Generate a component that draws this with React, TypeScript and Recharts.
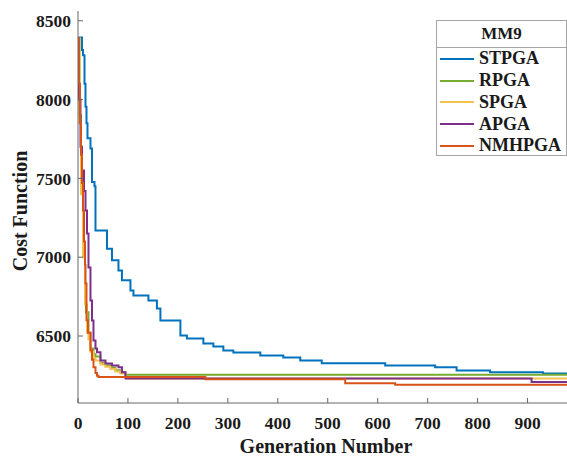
import { LineChart, Line, XAxis, YAxis, Legend, Label } from 'recharts'

// ─── Data ───────────────────────────────────────────────────────
const X_TICKS = [0, 100, 200, 300, 400, 500, 600, 700, 800, 900]
const Y_TICKS = [6500, 7000, 7500, 8000, 8500]

const STPGA_GEN = [0, 8, 10, 13, 15, 17, 19, 25, 28, 33, 35, 58, 68, 81, 88, 105, 111, 141, 158, 165, 205, 218, 251, 271, 291, 311, 365, 411, 445, 488, 615, 715, 758, 825, 931, 979]
const STPGA_COST = [8394, 8314, 8282, 8100, 7954, 7850, 7755, 7690, 7477, 7450, 7170, 7054, 6980, 6916, 6853, 6789, 6757, 6725, 6675, 6599, 6503, 6484, 6452, 6433, 6408, 6395, 6376, 6363, 6344, 6327, 6313, 6302, 6281, 6270, 6262, 6262]

const RPGA_GEN = [0, 3, 6, 10, 14, 16, 21, 25, 31, 35, 45, 55, 65, 75, 85, 95, 979]
const RPGA_COST = [8390, 7900, 7450, 7050, 6800, 6650, 6520, 6420, 6385, 6370, 6330, 6315, 6300, 6282, 6268, 6255, 6255]

const SPGA_GEN = [0, 3, 6, 10, 14, 18, 21, 25, 31, 35, 45, 55, 65, 75, 85, 95, 100, 979]
const SPGA_COST = [8390, 7850, 7400, 7000, 6700, 6520, 6480, 6400, 6360, 6345, 6320, 6305, 6290, 6275, 6262, 6240, 6231, 6231]

const APGA_GEN = [0, 2, 5, 8, 12, 15, 18, 21, 25, 28, 31, 35, 38, 45, 55, 68, 81, 88, 95, 908, 979]
const APGA_COST = [8390, 8000, 7700, 7550, 7420, 7297, 7150, 6935, 6725, 6598, 6472, 6420, 6397, 6344, 6325, 6313, 6302, 6270, 6231, 6208, 6208]

const NMHPGA_GEN = [0, 2, 4, 6, 8, 10, 12, 14, 15, 17, 20, 25, 28, 31, 35, 38, 41, 255, 535, 635, 979]
const NMHPGA_COST = [8390, 8100, 7850, 7650, 7470, 7297, 7100, 6950, 6833, 6600, 6520, 6410, 6350, 6302, 6265, 6248, 6240, 6226, 6200, 6190, 6190]

const toPoints = (gens: number[], costs: number[]) => gens.map((gen, i) => ({ gen, cost: costs[i] }))

const SERIES = [
  { name: 'STPGA', color: '#0072BD', data: toPoints(STPGA_GEN, STPGA_COST) },
  { name: 'RPGA', color: '#77AC30', data: toPoints(RPGA_GEN, RPGA_COST) },
  { name: 'SPGA', color: '#F2C14E', data: toPoints(SPGA_GEN, SPGA_COST) },
  { name: 'APGA', color: '#7E2F8E', data: toPoints(APGA_GEN, APGA_COST) },
  { name: 'NMHPGA', color: '#D95319', data: toPoints(NMHPGA_GEN, NMHPGA_COST) },
]

const FONT = '"Liberation Serif", "Times New Roman", serif'
const INK = '#1a1a1a'
const tickStyle = { fontSize: 17.5, fontWeight: 700, fill: INK, fontFamily: FONT }

// ─── Legend box ──────────────────────────────────────────────────
function LegendBox() {
  return (
    <div
      style={{
        position: 'absolute', left: 436, top: 20, width: 131, height: 136,
        background: '#fff', border: '1px solid #a6a6a6', fontFamily: FONT,
        fontWeight: 700, color: INK, boxSizing: 'border-box',
      }}
    >
      <div style={{ height: 26, lineHeight: '26px', textAlign: 'center', fontSize: 17, borderBottom: '1px solid #a6a6a6' }}>
        MM9
      </div>
      {SERIES.map((s) => (
        <div key={s.name} style={{ height: 21.75, display: 'flex', alignItems: 'center', fontSize: 18 }}>
          <div style={{ width: 34, height: 2, background: s.color, marginLeft: 3, marginRight: 5 }} />
          <span>{s.name}</span>
        </div>
      ))}
    </div>
  )
}

export default function App() {
  return (
    <div style={{ position: 'absolute', left: 0, top: 0, width: 567, height: 458, overflow: 'hidden', background: '#fff' }}>
      <LineChart width={567} height={458} margin={{ top: 11, right: 0, left: 0, bottom: 0 }}>
        <XAxis
          xAxisId="top" orientation="top" type="number" dataKey="gen" domain={[0, 979]} ticks={X_TICKS}
          height={0} tick={false} tickSize={-5} stroke="#666" allowDataOverflow
        />
        <XAxis
          type="number" dataKey="gen" domain={[0, 979]} ticks={X_TICKS} height={55}
          tick={tickStyle} tickSize={-5} tickMargin={19} stroke="#666" allowDataOverflow
        >
          <Label
            content={() => (
              <text x={326} y={453} textAnchor="middle" fontSize={20} fontWeight={700} fill={INK} fontFamily={FONT}>
                Generation Number
              </text>
            )}
          />
        </XAxis>
        <YAxis
          type="number" domain={[6075, 8562]} ticks={Y_TICKS} width={78}
          tick={tickStyle} tickSize={-5} tickMargin={12} stroke="#666" allowDataOverflow
        >
          <Label
            content={() => (
              <text x={27} y={211} transform="rotate(-90 27 211)" textAnchor="middle" fontSize={20} fontWeight={700} fill={INK} fontFamily={FONT}>
                Cost Function
              </text>
            )}
          />
        </YAxis>
        {SERIES.map((s) => (
          <Line
            key={s.name} data={s.data} dataKey="cost" name={s.name} type="stepAfter"
            stroke={s.color} strokeWidth={2} dot={false} activeDot={false} isAnimationActive={false}
          />
        ))}
        <Legend content={() => null} />
      </LineChart>
      <LegendBox />
    </div>
  )
}
